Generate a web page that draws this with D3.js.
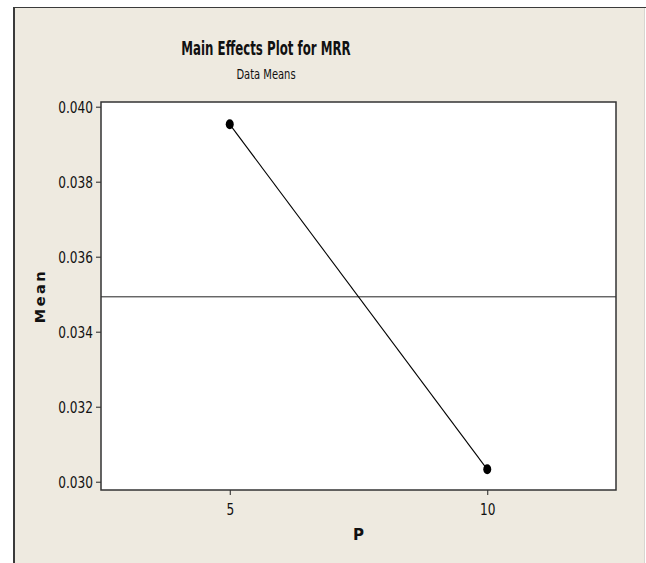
<!DOCTYPE html>
<html>
<head>
<meta charset="utf-8">
<script src="https://cdn.jsdelivr.net/npm/d3@7"></script>
<style>
  html, body { margin: 0; padding: 0; background: #ffffff; }
  svg { display: block; }
</style>
</head>
<body>
<svg id="chart" width="646" height="563"></svg>
<script>
// Factor levels of P and the mean MRR observed at each level
const levels = ["5", "10"];
const means = [0.03953, 0.03033];
const grandMean = 0.03493;
const yTicks = [0.030, 0.032, 0.034, 0.036, 0.038, 0.040];

const titleText = "Main Effects Plot for MRR";
const subtitleText = "Data Means";
const xLabel = "P";
const yLabel = "Mean";

const svg = d3.select("#chart");
const W = 646, H = 563;
const plot = { left: 101, right: 616, top: 102, bottom: 490 };
const bg = "#eeeae0";
const font = "DejaVu Sans, sans-serif";

// Squeeze text horizontally to a narrow face
function condense(sel, k) {
  sel.each(function () {
    const w = this.getComputedTextLength();
    d3.select(this).attr("textLength", w * k).attr("lengthAdjust", "spacingAndGlyphs");
  });
}

// Graph window background and frame
svg.append("rect").attr("x", 14).attr("y", 7.5).attr("width", 630).attr("height", H)
  .attr("fill", bg);
svg.append("line").attr("x1", 13).attr("x2", 646).attr("y1", 7.5).attr("y2", 7.5)
  .attr("stroke", "#3a3a3a").attr("stroke-width", 1);
svg.append("line").attr("x1", 14).attr("x2", 14).attr("y1", 7).attr("y2", H)
  .attr("stroke", "#3a3a3a").attr("stroke-width", 2);
svg.append("line").attr("x1", 644.5).attr("x2", 644.5).attr("y1", 8).attr("y2", H)
  .attr("stroke", "#d8d6d0").attr("stroke-width", 1);

// Data region
svg.append("rect")
  .attr("x", plot.left).attr("y", plot.top)
  .attr("width", plot.right - plot.left).attr("height", plot.bottom - plot.top)
  .attr("fill", "#ffffff");

const x = d3.scalePoint().domain(levels).range([plot.left, plot.right]).padding(0.5);
const y = d3.scaleLinear().domain([0.029779, 0.040125]).range([plot.bottom, plot.top]);

// Axes
const yAxis = svg.append("g")
  .attr("transform", `translate(${plot.left},0)`)
  .call(d3.axisLeft(y).tickValues(yTicks).tickFormat(d3.format(".3f")).tickSize(5).tickPadding(3));
yAxis.select(".domain").remove();
yAxis.attr("font-family", font).attr("font-size", 15);
yAxis.selectAll("text").attr("fill", "#111").attr("dy", "0.36em");
yAxis.selectAll("line").attr("stroke", "#222");
condense(yAxis.selectAll("text"), 0.81);

const xAxis = svg.append("g")
  .attr("transform", `translate(0,${plot.bottom})`)
  .call(d3.axisBottom(x).tickSize(5).tickPadding(9));
xAxis.select(".domain").remove();
xAxis.attr("font-family", font).attr("font-size", 15);
xAxis.selectAll("text").attr("fill", "#111");
xAxis.selectAll("line").attr("stroke", "#222");
condense(xAxis.selectAll("text"), 0.81);

// Grand mean reference line
svg.append("line")
  .attr("x1", plot.left).attr("x2", plot.right)
  .attr("y1", y(grandMean)).attr("y2", y(grandMean))
  .attr("stroke", "#222").attr("stroke-width", 1);

// Main effect line and level means
const pts = levels.map((l, i) => [x(l), y(means[i])]);
svg.append("path")
  .attr("d", d3.line()(pts))
  .attr("fill", "none").attr("stroke", "#000").attr("stroke-width", 1.1);
svg.selectAll("ellipse.pt").data(pts).enter().append("ellipse")
  .attr("class", "pt")
  .attr("cx", d => d[0]).attr("cy", d => d[1])
  .attr("rx", 4).attr("ry", 5)
  .attr("fill", "#000");

// Data region border
svg.append("rect")
  .attr("x", plot.left).attr("y", plot.top)
  .attr("width", plot.right - plot.left).attr("height", plot.bottom - plot.top)
  .attr("fill", "none").attr("stroke", "#333").attr("stroke-width", 1.5);

// Titles
const title = svg.append("text")
  .attr("x", 266).attr("y", 55).attr("text-anchor", "middle")
  .attr("font-family", font)
  .attr("font-size", 20).attr("font-weight", "bold").attr("fill", "#111")
  .text(titleText);
condense(title, 0.59);
const subtitle = svg.append("text")
  .attr("x", 266).attr("y", 79).attr("text-anchor", "middle")
  .attr("font-family", font)
  .attr("font-size", 14).attr("fill", "#111")
  .text(subtitleText);
condense(subtitle, 0.71);

// Axis labels
svg.append("text")
  .attr("x", (plot.left + plot.right) / 2).attr("y", 540).attr("text-anchor", "middle")
  .attr("font-family", font)
  .attr("font-size", 15).attr("font-weight", "bold").attr("fill", "#111")
  .text(xLabel);
svg.append("text")
  .attr("transform", "translate(45,296) rotate(-90)").attr("text-anchor", "middle")
  .attr("font-family", font)
  .attr("font-size", 14.5).attr("font-weight", "bold").attr("letter-spacing", 2.5).attr("fill", "#111")
  .text(yLabel);
</script>
</body>
</html>
